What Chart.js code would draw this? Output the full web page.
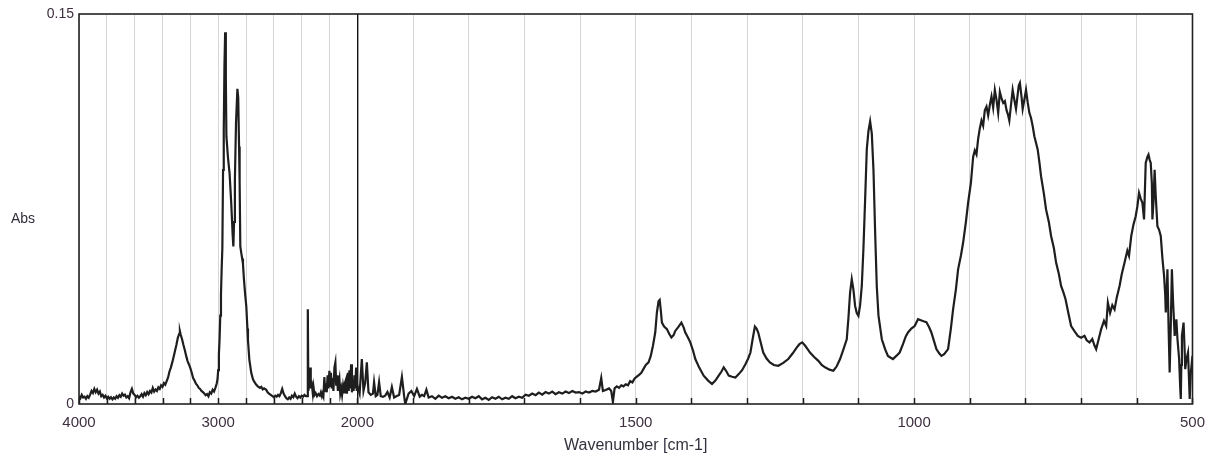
<!DOCTYPE html>
<html>
<head>
<meta charset="utf-8">
<title>IR spectrum</title>
<script src="https://cdn.jsdelivr.net/npm/chart.js@4.4.1/dist/chart.umd.min.js"></script>
<style>
  html, body { margin: 0; padding: 0; background: #ffffff; }
  #wrap { width: 1215px; height: 460px; }
</style>
</head>
<body>
<div id="wrap"><canvas id="spectrum" width="1215" height="460"></canvas></div>
<script>
// Spectrum samples as [wavenumber (cm-1), absorbance]
const ohRegion = [
  [4000,0.0030],[3990,0.0022],[3980,0.0035],[3970,0.0025],[3960,0.0028],[3950,0.0020],[3940,0.0030],
  [3930,0.0024],[3920,0.0036],[3910,0.0050],[3900,0.0042],[3890,0.0058],[3880,0.0045],[3870,0.0055],
  [3860,0.0040],[3850,0.0048],[3840,0.0030],[3830,0.0035],[3820,0.0025],[3810,0.0032],[3800,0.0022],
  [3790,0.0028],[3780,0.0020],[3770,0.0026],[3760,0.0018],[3750,0.0025],[3740,0.0020],[3730,0.0030],
  [3720,0.0024],[3710,0.0034],[3700,0.0028],[3690,0.0040],[3680,0.0032],[3670,0.0036],[3660,0.0025],
  [3650,0.0030],[3640,0.0022],[3630,0.0045],[3620,0.0058],[3610,0.0040],[3600,0.0035],[3590,0.0026],
  [3580,0.0032],[3570,0.0024],[3560,0.0030],[3550,0.0038],[3540,0.0028],[3530,0.0042],[3520,0.0034],
  [3510,0.0046],[3500,0.0038],[3490,0.0050],[3480,0.0044],[3470,0.0062],[3460,0.0048],[3450,0.0056],
  [3440,0.0050],[3430,0.0064],[3420,0.0058],[3410,0.0072],[3400,0.0066],[3390,0.0080],[3380,0.0074],
  [3370,0.0088],[3360,0.0102],[3350,0.0125],[3340,0.0140],[3330,0.0160],[3320,0.0182],[3310,0.0205],
  [3300,0.0228],[3290,0.0255],[3280,0.0270],[3275,0.0280],[3270,0.0268],[3260,0.0250],[3250,0.0228],
  [3240,0.0208],[3230,0.0185],[3220,0.0165],[3210,0.0152],[3200,0.0138],[3190,0.0120],[3180,0.0100],
  [3170,0.0090],[3160,0.0078],[3150,0.0072],[3140,0.0062],[3130,0.0058],[3120,0.0050],[3110,0.0046],
  [3100,0.0040],[3090,0.0034],[3080,0.0038],[3070,0.0030],[3060,0.0045],[3050,0.0040],[3040,0.0055],
  [3030,0.0048],[3020,0.0062],[3010,0.0080],[3005,0.0095]
];

const chRegion = [
  [3000,0.0130],[2995,0.0190],[2990,0.0250],[2985,0.0340],[2980,0.0420],[2975,0.0520],[2970,0.0600],
  [2965,0.0900],[2960,0.1050],[2955,0.1300],[2950,0.1430],[2945,0.1250],[2941,0.1030],[2930,0.0950],
  [2918,0.0886],[2906,0.0770],[2896,0.0650],[2891,0.0606],[2886,0.0700],[2880,0.0860],[2872,0.1080],
  [2862,0.1212],[2856,0.1180],[2850,0.0990],[2846,0.0860],[2841,0.0606],[2834,0.0580],[2828,0.0560],
  [2822,0.0540],[2815,0.0480],[2806,0.0420],[2798,0.0376],[2790,0.0290],[2786,0.0245],[2776,0.0170],
  [2762,0.0119],[2750,0.0095],[2740,0.0085],[2726,0.0074],[2715,0.0068],[2700,0.0062],[2690,0.0066],
  [2680,0.0056],[2670,0.0060],[2655,0.0055],[2645,0.0045],[2635,0.0040],[2625,0.0036],[2610,0.0030],
  [2600,0.0026],[2590,0.0032],[2580,0.0028],[2570,0.0035],[2560,0.0030],[2550,0.0042],[2540,0.0058],
  [2530,0.0040],[2520,0.0030],[2510,0.0022],[2500,0.0018],[2490,0.0025],[2480,0.0020],[2470,0.0032],
  [2460,0.0026],[2450,0.0040],[2440,0.0028],[2430,0.0022],[2420,0.0030],[2410,0.0025],[2400,0.0032],
  [2390,0.0028],[2380,0.0035],[2370,0.0030]
];

const noisyRegion = [
  [2360,0.0030],[2356,0.0364],[2352,0.0050],[2346,0.0080],[2340,0.0140],[2335,0.0060],[2330,0.0090],
  [2320,0.0040],[2315,0.0065],[2308,0.0035],[2300,0.0042],[2290,0.0030],[2280,0.0038],[2270,0.0032],
  [2262,0.0045],[2255,0.0030],[2250,0.0040],[2244,0.0030],[2237,0.0104],[2232,0.0050],[2226,0.0080],
  [2220,0.0045],[2214,0.0110],[2208,0.0060],[2201,0.0128],[2196,0.0070],[2190,0.0120],[2184,0.0060],
  [2178,0.0100],[2172,0.0050],[2165,0.0140],[2158,0.0160],[2152,0.0070],[2146,0.0110],[2140,0.0050],
  [2134,0.0080],[2129,0.0096],[2123,0.0040],[2116,0.0060],[2110,0.0035],[2103,0.0070],[2096,0.0045],
  [2090,0.0080],[2081,0.0095],[2075,0.0040],[2068,0.0120],[2062,0.0050],[2057,0.0130],[2051,0.0060],
  [2045,0.0153],[2039,0.0045],[2033,0.0090],[2027,0.0050],[2021,0.0110],[2015,0.0060],[2009,0.0140],
  [2004,0.0050],[2000,0.0070],[1996,0.0040],[1992,0.0173],[1989,0.0050],[1986,0.0080],[1983,0.0160],
  [1980,0.0045],[1976,0.0035],[1972,0.0040],[1970,0.0084],[1967,0.0030],[1964,0.0035],[1961,0.0084],
  [1958,0.0030],[1954,0.0028],[1950,0.0032],[1946,0.0046],[1942,0.0025],[1938,0.0065],[1934,0.0025],
  [1930,0.0030],[1925,0.0035],[1920,0.0104],[1916,0.0030],[1914,0.0000],[1908,0.0040],[1903,0.0050],
  [1898,0.0030],[1893,0.0058],[1888,0.0028],[1884,0.0035],[1880,0.0030],[1876,0.0055],[1872,0.0025]
];

const flatRegion = [
  [1866,0.0030],[1860,0.0020],[1854,0.0032],[1848,0.0024],[1842,0.0030],[1836,0.0022],[1830,0.0028],
  [1824,0.0020],[1818,0.0026],[1812,0.0018],[1806,0.0024],[1800,0.0020],[1794,0.0028],[1788,0.0022],
  [1782,0.0030],[1776,0.0018],[1770,0.0024],[1764,0.0016],[1758,0.0026],[1752,0.0020],[1746,0.0028],
  [1740,0.0018],[1734,0.0024],[1728,0.0020],[1722,0.0030],[1716,0.0022],[1710,0.0028],[1704,0.0024],
  [1698,0.0036],[1692,0.0032],[1686,0.0040],[1680,0.0034],[1674,0.0044],[1668,0.0036],[1662,0.0046],
  [1656,0.0040],[1650,0.0048],[1644,0.0038],[1638,0.0045],[1632,0.0040],[1626,0.0048],[1620,0.0042],
  [1614,0.0050],[1608,0.0044],[1602,0.0046],[1596,0.0040],[1590,0.0048],[1584,0.0044],[1578,0.0050],
  [1572,0.0048],[1566,0.0055],[1562,0.0100],[1559,0.0050],[1554,0.0054],[1548,0.0060],[1544,0.0050],
  [1541,0.0008],[1538,0.0060],[1534,0.0068],[1530,0.0062],[1526,0.0072],[1522,0.0068],[1518,0.0076],
  [1514,0.0072],[1510,0.0088],[1506,0.0083],[1502,0.0098]
];

const fingerprintRegion = [
  [1498,0.0105],[1494,0.0112],[1490,0.0120],[1486,0.0135],[1482,0.0150],[1477,0.0160],[1473,0.0185],
  [1469,0.0225],[1465,0.0275],[1462,0.0352],[1459,0.0395],[1457,0.0400],[1455,0.0360],[1453,0.0313],
  [1449,0.0298],[1444,0.0288],[1440,0.0270],[1436,0.0256],[1432,0.0265],[1429,0.0281],[1424,0.0295],
  [1418,0.0313],[1414,0.0295],[1411,0.0275],[1406,0.0255],[1402,0.0237],[1397,0.0205],[1393,0.0173],
  [1386,0.0140],[1378,0.0109],[1370,0.0090],[1363,0.0077],[1357,0.0090],[1351,0.0109],[1346,0.0125],
  [1342,0.0141],[1337,0.0125],[1333,0.0109],[1327,0.0105],[1321,0.0102],[1315,0.0115],[1309,0.0130],
  [1303,0.0153],[1298,0.0175],[1294,0.0198],[1290,0.0250],[1286,0.0298],[1283,0.0290],[1280,0.0275],
  [1276,0.0240],[1271,0.0198],[1265,0.0175],[1259,0.0160],[1252,0.0150],[1244,0.0147],[1235,0.0158],
  [1226,0.0173],[1218,0.0195],[1211,0.0217],[1206,0.0230],[1201,0.0237],[1196,0.0225],[1191,0.0210],
  [1187,0.0198],[1180,0.0182],[1172,0.0166],[1166,0.0150],[1160,0.0141],[1152,0.0132],[1145,0.0128],
  [1139,0.0145],[1133,0.0173],[1127,0.0210],[1121,0.0249],[1118,0.0330],[1115,0.0428],[1112,0.0480],
  [1109,0.0440],[1106,0.0377],[1103,0.0350],[1100,0.0339],[1097,0.0380],[1094,0.0454],[1091,0.0600],
  [1088,0.0786],[1085,0.0980],[1082,0.1050],[1079,0.1087],[1076,0.1040],[1073,0.0900],[1070,0.0659],
  [1067,0.0450],[1064,0.0340],[1058,0.0249],[1052,0.0210],[1047,0.0185],[1042,0.0178],[1038,0.0173],
  [1032,0.0185],[1026,0.0198],[1020,0.0230],[1015,0.0260],[1011,0.0275],[1005,0.0290],[999,0.0300],
  [993,0.0326],[988,0.0322],[983,0.0318],[978,0.0315],[973,0.0295],[969,0.0275],[964,0.0240],
  [960,0.0211],[955,0.0195],[951,0.0185],[946,0.0192],[939,0.0211]
];

const lowRegion = [
  [934,0.0290],[930,0.0364],[925,0.0440],[921,0.0518],[916,0.0570],[912,0.0620],[907,0.0700],
  [903,0.0774],[898,0.0850],[894,0.0950],[891,0.0975],[888,0.0960],[885,0.1020],[882,0.1060],
  [879,0.1090],[876,0.1070],[873,0.1130],[870,0.1144],[867,0.1110],[864,0.1150],[861,0.1183],
  [858,0.1140],[855,0.1208],[852,0.1170],[849,0.1120],[846,0.1200],[843,0.1175],[840,0.1158],
  [837,0.1165],[834,0.1130],[831,0.1110],[829,0.1090],[826,0.1150],[823,0.1208],[820,0.1170],
  [817,0.1135],[814,0.1190],[812,0.1225],[810,0.1235],[807,0.1180],[805,0.1135],[802,0.1170],
  [799,0.1208],[796,0.1160],[793,0.1120],[790,0.1100],[787,0.1068],[784,0.1030],[781,0.1004],
  [778,0.0978],[775,0.0930],[772,0.0876],[767,0.0810],[763,0.0748],[758,0.0700],
  [754,0.0646],[749,0.0600],[745,0.0544],[740,0.0500],[736,0.0454],[732,0.0430],[728,0.0403],
  [723,0.0350],[718,0.0300],[712,0.0280],[706,0.0262],[700,0.0255],[694,0.0262],[690,0.0245],
  [685,0.0237],[680,0.0250],[676,0.0225],[673,0.0211],[669,0.0245],[664,0.0288],[659,0.0320],
  [655,0.0300],[652,0.0390],[648,0.0350],[644,0.0380],[640,0.0364],[636,0.0410],[631,0.0454],
  [627,0.0500],[622,0.0544],[617,0.0590],[614,0.0570],[610,0.0646],[606,0.0690],[602,0.0722],
  [599,0.0760],[596,0.0812],[593,0.0790],[590,0.0774],[587,0.0710],[584,0.0927],[581,0.0950],
  [579,0.0959],[577,0.0940],[575,0.0927],[573,0.0850],[572,0.0710],[570,0.0780],[568,0.0901],
  [566,0.0800],[563,0.0684],[560,0.0670],[557,0.0646],[554,0.0560],[551,0.0492],[549,0.0420],
  [548,0.0352],[546,0.0450],[545,0.0518],[543,0.0300],[541,0.0121],[539,0.0300],[537,0.0518],
  [535,0.0400],[532,0.0262],[530,0.0300],[529,0.0326],[527,0.0250],[524,0.0173],[522,0.0060],
  [521,0.0019],[520,0.0150],[519,0.0262],[516,0.0313],[514,0.0200],[513,0.0134],[511,0.0170],
  [508,0.0198],[506,0.0080],[505,0.0019],[503,0.0120],[500,0.0185]
];

// Axis marks
const gridMarks = [4000,3800,3600,3400,3200,3000,2800,2600,2400,2200,2000,
                   1900,1800,1700,1600,1500,1400,1300,1200,1100,1000,900,800,700,600,500];
const labelledMarks = [4000,3000,2000,1500,1000,500];
const absMarks = [0, 0.15];

const spectrum = [...ohRegion, ...chRegion, ...noisyRegion, ...flatRegion, ...fingerprintRegion, ...lowRegion]
  .map(([x, y]) => ({ x, y }));

// Wavenumber axis with a 4x expansion below 2000 cm-1 (left quarter covers 4000-2000)
const SPLIT = 2000, HIGH = 4000, LOW = 500, SPLIT_FRAC = 0.25;
class SplitWavenumberScale extends Chart.LinearScale {
  getPixelForValue(value) {
    if (value === null || value === undefined || isNaN(value)) return NaN;
    const d = value >= SPLIT
      ? (HIGH - value) / (HIGH - SPLIT) * SPLIT_FRAC
      : SPLIT_FRAC + (SPLIT - value) / (SPLIT - LOW) * (1 - SPLIT_FRAC);
    return this.getPixelForDecimal(d);
  }
  getValueForPixel(pixel) {
    const d = this.getDecimalForPixel(pixel);
    return d <= SPLIT_FRAC
      ? HIGH - d / SPLIT_FRAC * (HIGH - SPLIT)
      : SPLIT - (d - SPLIT_FRAC) / (1 - SPLIT_FRAC) * (SPLIT - LOW);
  }
}
SplitWavenumberScale.id = 'splitWavenumber';
SplitWavenumberScale.defaults = Chart.LinearScale.defaults;
Chart.register(SplitWavenumberScale);

const labelColor = '#3e2f3f';
const fontFamily = '"Liberation Sans", Arial, sans-serif';

// Frame, inward tick marks and the horizontal "Abs" caption
const framePlugin = {
  id: 'frame',
  afterDraw(chart) {
    const { ctx, chartArea: a, scales } = chart;
    const xs = scales.x;
    ctx.save();
    ctx.strokeStyle = '#1c1c1c';
    ctx.lineWidth = 1.5;
    ctx.beginPath();
    gridMarks.forEach(v => {
      const px = Math.round(xs.getPixelForValue(v)) + 0.5;
      ctx.moveTo(px, a.bottom);
      ctx.lineTo(px, a.bottom - 6);
    });
    ctx.stroke();
    ctx.strokeStyle = '#222222';
    ctx.lineWidth = 1.6;
    ctx.strokeRect(a.left, a.top, a.right - a.left, a.bottom - a.top);
    ctx.fillStyle = '#2f2f3a';
    ctx.font = '14px ' + fontFamily;
    ctx.textAlign = 'left';
    ctx.textBaseline = 'middle';
    ctx.fillText('Abs', 11, 219);
    ctx.restore();
  }
};

new Chart(document.getElementById('spectrum'), {
  type: 'line',
  data: {
    datasets: [{
      data: spectrum,
      borderColor: '#1e1e1e',
      borderWidth: 2.2,
      pointRadius: 0,
      tension: 0,
      fill: false
    }]
  },
  options: {
    responsive: false,
    animation: false,
    devicePixelRatio: 1,
    parsing: true,
    layout: { padding: { top: 14, right: 20, left: 0, bottom: 0 } },
    plugins: { legend: { display: false }, tooltip: { enabled: false } },
    scales: {
      x: {
        type: 'splitWavenumber',
        min: LOW,
        max: HIGH,
        afterBuildTicks: s => { s.ticks = gridMarks.map(v => ({ value: v })); },
        afterFit: s => { s.height = 56; },
        border: { display: false },
        grid: {
          drawTicks: false,
          color: c => (c.tick && c.tick.value === SPLIT) ? '#111111' : '#d6d6d6',
          lineWidth: c => (c.tick && c.tick.value === SPLIT) ? 1.4 : 1
        },
        ticks: {
          autoSkip: false,
          maxRotation: 0,
          padding: 10,
          color: labelColor,
          font: { family: fontFamily, size: 15 },
          callback: v => labelledMarks.includes(v) ? String(v) : ''
        },
        title: {
          display: true,
          text: 'Wavenumber [cm-1]',
          color: '#33333f',
          font: { family: fontFamily, size: 16 },
          padding: { top: 0, bottom: 5 }
        }
      },
      y: {
        min: 0,
        max: 0.15,
        afterBuildTicks: s => { s.ticks = absMarks.map(v => ({ value: v })); },
        afterFit: s => { s.width = 79; },
        border: { display: false },
        grid: { display: false, drawTicks: false },
        ticks: {
          padding: 5,
          color: labelColor,
          font: { family: fontFamily, size: 14 },
          callback: v => String(v)
        }
      }
    }
  },
  plugins: [framePlugin]
});
</script>
</body>
</html>
